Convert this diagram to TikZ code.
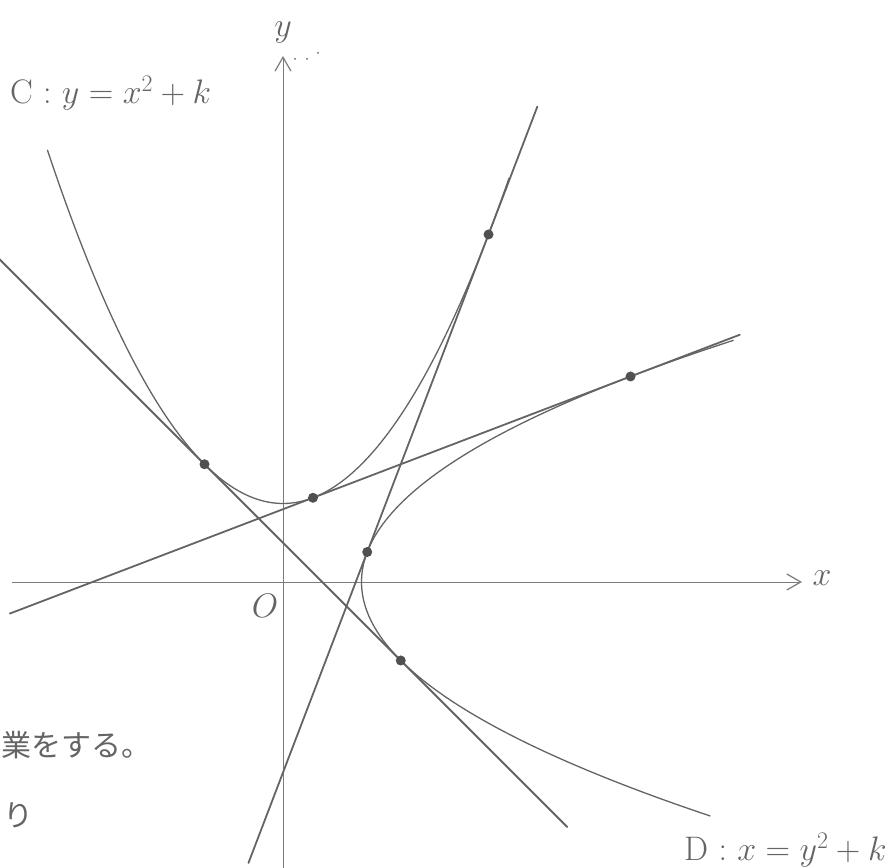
\RequirePackage{fix-cm}
\documentclass[tikz,border=0pt]{standalone}
\usepackage{fontspec}
\newfontfamily\cjk{Noto Sans CJK JP}
\usetikzlibrary{arrows.meta}
\definecolor{pencil}{RGB}{100,100,100}
\definecolor{lead}{RGB}{80,80,80}
\begin{document}
\begin{tikzpicture}[x=1pt,y=1pt,
  tline/.style={draw=pencil, line width=1.8pt, line cap=round},
  curve/.style={draw=pencil, line width=1.3pt, line cap=round},
  axis/.style={draw=pencil!85, line width=0.9pt},
  tpt/.style={circle, fill=lead, inner sep=0pt, minimum size=10pt},
  lbl/.style={text=pencil, inner sep=0pt, font=\fontsize{34}{40}\selectfont},
  jlbl/.style={text=pencil, inner sep=0pt, font=\cjk\fontsize{30}{36}\selectfont}
]
\useasboundingbox (0,0) rectangle (887,868);
\clip (0,0) rectangle (887,868);
% axes
\coordinate (xs) at (12,286);
\coordinate (xe) at (802,286);
\coordinate (ys) at (283,0);
\coordinate (ye) at (283,812);
\draw[axis,-{Straight Barb[length=14pt,width=16pt,line width=1.2pt]}] (xs) -- (xe);
\draw[axis,-{Straight Barb[length=14pt,width=16pt,line width=1.2pt]}] (ys) -- (ye);
\node[lbl] (xl) at (822,290) {$x$};
\node[lbl] (yl) at (283,836) {$y$};
\node[lbl] (ol) at (265,262) {$O$};
\fill[pencil] (295,809) circle (1pt) (307,809) circle (1pt) (318,815) circle (1pt);

% labels
\node[lbl, anchor=west] (cl) at (10,775) {C : $y = x^2 + k$};
\node[lbl, anchor=west] (dl) at (684,18) {D : $x = y^2 + k$};
\node[jlbl, anchor=west] (jp1) at (1,123) {業をする。};
\node[jlbl, anchor=west] (jp2) at (3,53) {り};

\begin{scope}[shift={(283pt,286pt)}, x=157pt, y=157pt]
  % curves
  \draw[curve] plot[domain=-1.5:1.44, samples=120] (\x,{\x*\x+0.5});
  \draw[curve] plot[domain=-1.49:1.54, samples=120] ({\x*\x+0.5},\x);
  % tangent points
  \coordinate (P1) at (-0.5,0.75);
  \coordinate (Q1) at (0.75,-0.5);
  \coordinate (P2) at (0.190983,0.536475);
  \coordinate (Q2) at (2.213525,1.309017);
  \coordinate (P3) at (1.309017,2.213525);
  \coordinate (Q3) at (0.536475,0.190983);
  % line ends
  \coordinate (L1a) at (-1.83,2.08);
  \coordinate (L1b) at (1.81,-1.56);
  \coordinate (L2a) at (-1.74,-0.2011);
  \coordinate (L2b) at (2.91,1.5751);
  \coordinate (L3a) at (-0.22,-1.7895);
  \coordinate (L3b) at (1.62,3.0277);
  \draw[tline] (L1a) -- (P1) -- (Q1) -- (L1b);
  \draw[tline] (L2a) -- (P2) -- (Q2) -- (L2b);
  \draw[tline] (L3a) -- (Q3) -- (P3) -- (L3b);
  \foreach \p in {P1,Q1,P2,Q2,P3,Q3} \node[tpt] at (\p) {};
\end{scope}
\end{tikzpicture}
\end{document}
